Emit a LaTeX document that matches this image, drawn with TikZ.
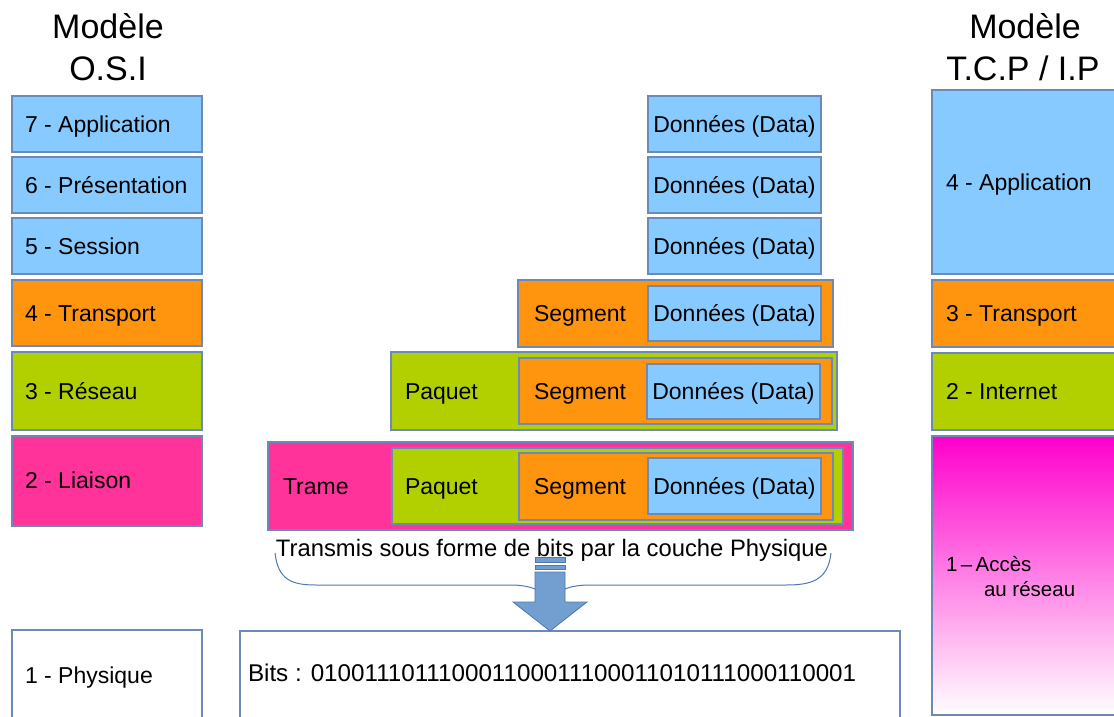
\documentclass[tikz,border=0pt]{standalone}
\usepackage{fontspec}
\setmainfont{Liberation Sans}
\usetikzlibrary{calc}
\usetikzlibrary{positioning}

\definecolor{bleu}{RGB}{135,202,255}
\definecolor{orangec}{RGB}{255,149,14}
\definecolor{vert}{RGB}{178,208,0}
\definecolor{rose}{RGB}{255,51,153}
\definecolor{magenta}{RGB}{255,0,204}
\definecolor{bord}{RGB}{108,138,184}
\definecolor{flechebleu}{RGB}{114,159,207}
\definecolor{flechebord}{RGB}{80,120,175}

\begin{document}
\begin{tikzpicture}
  [
  x=1pt, y=-1pt,
  % police et marges
  every node/.style={inner sep=0, outer sep=0, font=\fontsize{23}{27}\selectfont},
  % couches
  boite/.style={rectangle, draw=bord, line width=1.3pt, anchor=north west},
  % textes a gauche des couches
  etiq/.style={anchor=west, text height=16.5pt, text depth=0pt},
  % donnees
  donnees/.style={boite, fill=bleu, minimum width=173pt,
  text height=16.5pt, text depth=0pt},
  % titres
  titre/.style={font=\fontsize{34}{40}\selectfont, text height=24.3pt, text depth=0pt},
  % fleche vers la couche physique
  fleche/.style={fill=flechebleu, draw=flechebord, line width=0.8pt},
  % accolade
  accolade/.style={draw=flechebord, line width=1pt}
  ]
  \useasboundingbox (0,0) rectangle (1114,717);

  % titres
  \node [titre] (osiA) at (108,26) {Modèle};
  \node [titre] (osiB) at (108,68) {O.S.I};
  \node [titre] (tcpA) at (1025,26) {Modèle};
  \node [titre] (tcpB) at (1023,68) {T.C.P / I.P};

  % modele OSI
  \node [boite, fill=bleu, minimum width=190pt, minimum height=56pt] (o7) at (12,96) {};
  \node [boite, fill=bleu, minimum width=190pt, minimum height=56pt] (o6) at (12,157) {};
  \node [boite, fill=bleu, minimum width=190pt, minimum height=56pt] (o5) at (12,218) {};
  \node [boite, fill=orangec, minimum width=190pt, minimum height=66pt] (o4) at (12,280) {};
  \node [boite, fill=vert, minimum width=190pt, minimum height=78pt] (o3) at (12,352) {};
  \node [boite, fill=rose, minimum width=190pt, minimum height=90pt] (o2) at (12,436) {};
  \node [boite, fill=white, minimum width=190pt, minimum height=100pt] (o1) at (12,630) {};
  \node [etiq, right=13pt of o7.west] (t7) {7 - Application};
  \node [etiq, right=13pt of o6.west] (t6) {6 - Présentation};
  \node [etiq, right=13pt of o5.west] (t5) {5 - Session};
  \node [etiq, right=13pt of o4.west] (t4) {4 - Transport};
  \node [etiq, right=13pt of o3.west] (t3) {3 - Réseau};
  \node [etiq, right=13pt of o2.west, yshift=1pt] (t2) {2 - Liaison};
  \node [etiq, right=13pt of o1.west, yshift=5pt] (t1) {1 - Physique};

  % encapsulation
  \node [donnees, minimum height=56pt] (d7) at (648,96) {Données (Data)};
  \node [donnees, minimum height=56pt] (d6) at (648,157) {Données (Data)};
  \node [donnees, minimum height=56pt] (d5) at (648,218) {Données (Data)};

  \node [boite, fill=orangec, minimum width=315pt, minimum height=67pt] (s4) at (518,280) {};
  \node [donnees, minimum height=55pt] (d4) at (648,286) {Données (Data)};
  \node [etiq, right=16pt of s4.west] (ts4) {Segment};

  \node [boite, fill=vert, minimum width=446pt, minimum height=78pt] (p3) at (391,352) {};
  \node [boite, fill=orangec, minimum width=313pt, minimum height=66pt] (s3) at (519,358) {};
  \node [donnees, minimum height=55pt] (d3) at (647,364) {Données (Data)};
  \node [etiq, right=14pt of p3.west] (tp3) {Paquet};
  \node [etiq, right=15pt of s3.west] (ts3) {Segment};

  \node [boite, fill=rose, minimum width=585pt, minimum height=88pt] (r2) at (268,442) {};
  \node [boite, fill=vert, minimum width=451pt, minimum height=76pt] (p2) at (392,448) {};
  \node [boite, fill=orangec, minimum width=314pt, minimum height=67pt] (s2) at (519,453) {};
  \node [donnees, minimum height=56pt] (d2) at (648,458) {Données (Data)};
  \node [etiq, right=15pt of r2.west] (tr2) {Trame};
  \node [etiq, right=13pt of p2.west] (tp2) {Paquet};
  \node [etiq, right=15pt of s2.west] (ts2) {Segment};

  % transmission
  \node [font=\fontsize{23.8}{27}\selectfont, text height=17pt, text depth=0pt] (trans)
  at (552,548) {Transmis sous forme de bits par la couche Physique};
  \draw [accolade] (275,553) .. controls (278,580) and (292,585) .. (316,585)
  -- (510,585) .. controls (530,585) and (542,590) .. (550,600)
  .. controls (558,590) and (570,585) .. (590,585) -- (786,585)
  .. controls (812,585) and (828,580) .. (831,553);
  \node [boite, fill=white, minimum width=660pt, minimum height=100pt] (bits) at (240,631) {};
  \node [etiq, font=\fontsize{24.2}{27}\selectfont, right=8pt of bits.west, yshift=8pt] (tbits)
  {Bits : 010011101110001100011100011010111000110001};
  \coordinate (pointe) at (bits.north -| 550,0);
  \fill [fleche] (535,557) rectangle (565,562);
  \fill [fleche] (535,565) rectangle (565,569);
  \filldraw [fleche] (535,572) -- (565,572) -- (565,602) -- (587,602)
  -- (pointe) -- (513,602) -- (535,602) -- cycle;

  % modele TCP/IP
  \node [boite, fill=bleu, minimum width=190pt, minimum height=184pt] (i4) at (932,90) {};
  \node [boite, fill=orangec, minimum width=190pt, minimum height=67pt] (i3) at (932,280) {};
  \node [boite, fill=vert, minimum width=190pt, minimum height=77pt] (i2) at (932,353) {};
  \node [boite, top color=magenta, bottom color=white, minimum width=190pt,
  minimum height=279pt] (i1) at (932,436) {};
  \node [etiq, right=14pt of i4.west] (ti4) {4 - Application};
  \node [etiq, right=14pt of i3.west] (ti3) {3 - Transport};
  \node [etiq, right=14pt of i2.west] (ti2) {2 - Internet};
  \node [etiq, font=\fontsize{20.5}{24}\selectfont, right=14pt of i1.west, yshift=12pt] (ti1a)
  {1\,–\,Accès};
  \node [etiq, font=\fontsize{20.5}{24}\selectfont, right=52pt of i1.west, yshift=-13pt] (ti1b)
  {au réseau};
\end{tikzpicture}
\end{document}
